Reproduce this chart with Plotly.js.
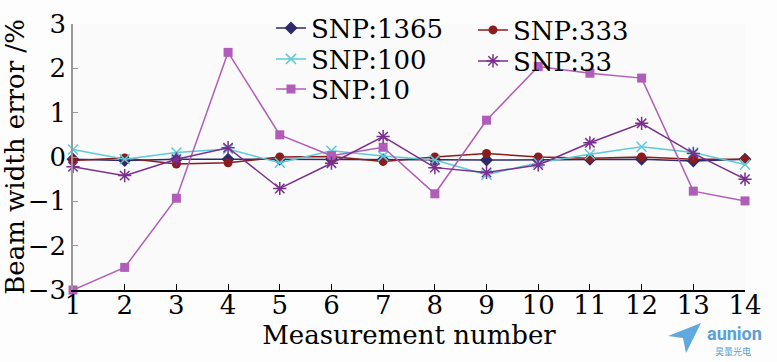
<!DOCTYPE html>
<html><head><meta charset="utf-8">
<script src="https://cdn.plot.ly/plotly-3.0.1.min.js"></script>
<style>html,body{margin:0;padding:0;background:#fdfdfd}</style>
</head><body><div id="chart" style="width:777px;height:362px"></div>
<script>
const measurement = [1,2,3,4,5,6,7,8,9,10,11,12,13,14];
const snp1365 = [-0.05,-0.08,-0.05,-0.05,-0.05,-0.05,-0.06,-0.06,-0.07,-0.06,-0.05,-0.05,-0.09,-0.05];
const snp333  = [-0.08,-0.02,-0.16,-0.13,0.00,0.01,-0.10,0.00,0.08,0.00,-0.03,0.00,-0.05,-0.05];
const snp100  = [0.17,-0.05,0.10,0.18,-0.13,0.14,0.02,-0.07,-0.40,-0.13,0.06,0.23,0.10,-0.17];
const snp10   = [-3.00,-2.49,-0.93,2.36,0.50,0.03,0.22,-0.83,0.83,2.04,1.89,1.78,-0.77,-0.99];
const snp33   = [-0.22,-0.42,-0.05,0.21,-0.71,-0.14,0.46,-0.24,-0.35,-0.18,0.32,0.76,0.08,-0.50];

const FONT = '"DejaVu Serif", serif';
function tr(name, y, color, symbol, size, legend, mlw){
  return {x: measurement, y: y, name: name, type:'scatter', mode:'lines+markers',
    line:{color:color, width:1.5}, legend: legend, cliponaxis:false,
    marker:{color:color, symbol:symbol, size:size, line:{color:color, width:mlw||0}}};
}
const data = [
  tr('SNP:1365', snp1365, '#2d2a6b', 'diamond', 10, 'legend'),
  tr('SNP:333', snp333, '#8b1c1c', 'circle', 9, 'legend2'),
  tr('SNP:100', snp100, '#5ccbd8', 'x-thin-open', 10, 'legend3', 1.5),
  tr('SNP:10', snp10, '#b15cb8', 'square', 9, 'legend4'),
  tr('SNP:33', snp33, '#7a2f8f', 'asterisk-open', 11, 'legend5', 1.5)
];
// pixel -> paper helpers
const L=73, T=24, W=672, H=266;
const px = v => (v-L)/W, py = v => (T+H-v)/H;
function leg(xp, centerY){
  return {x:px(xp), y:py(centerY-22.5), xanchor:'left', yanchor:'top', bgcolor:'rgba(0,0,0,0)',
    font:{family:FONT, size:26}, itemwidth:30};
}
const logo = `M ${px(668)},${py(336)} L ${px(701)},${py(323)} L ${px(686)},${py(353)} L ${px(683)},${py(338)} Z`;
const layout = {
  width:777, height:362,
  margin:{l:L, r:777-L-W, t:T, b:362-T-H, autoexpand:false},
  paper_bgcolor:'#fdfdfd', plot_bgcolor:'#fafafa',
  font:{family:FONT, size:26, color:'#000'},
  showlegend:true,
  legend: leg(271, 27),
  legend3: leg(271, 58),
  legend4: leg(271, 88),
  legend2: leg(473, 29),
  legend5: leg(473, 60),
  xaxis:{range:[1,14], tickvals:measurement, ticks:'inside', ticklen:6, tickcolor:'#000',
    showline:true, linecolor:'#000', linewidth:1.5, showgrid:false, zeroline:false,
    tickfont:{family:FONT, size:26}, ticklabelstandoff:-9,
    title:{text:'Measurement number', font:{family:FONT, size:26}, standoff:0}},
  yaxis:{range:[-3,3], dtick:1, ticks:'inside', ticklen:5, tickcolor:'#999',
    showline:true, linecolor:'#999', linewidth:1.5, showgrid:false, zeroline:false,
    tickfont:{family:FONT, size:26},
    title:{text:'Beam width error /%', font:{family:FONT, size:26}, standoff:4}},
  shapes:[{type:'path', xref:'paper', yref:'paper', path:logo, fillcolor:'#5fa8e0', line:{width:0}}],
  annotations:[
    {xref:'paper', yref:'paper', x:px(764), y:py(334), xanchor:'right', yanchor:'middle', showarrow:false,
     text:'<b>aunion</b>', font:{family:'Roboto, sans-serif', size:18, color:'#5a9fd8'}},
    {xref:'paper', yref:'paper', x:px(733), y:py(351), xanchor:'center', yanchor:'middle', showarrow:false,
     text:'昊量光电', font:{family:'"Noto Sans CJK SC", sans-serif', size:9, color:'#5a9fd8'}}
  ]
};
Plotly.newPlot('chart', data, layout, {displayModeBar:false});
</script></body></html>
